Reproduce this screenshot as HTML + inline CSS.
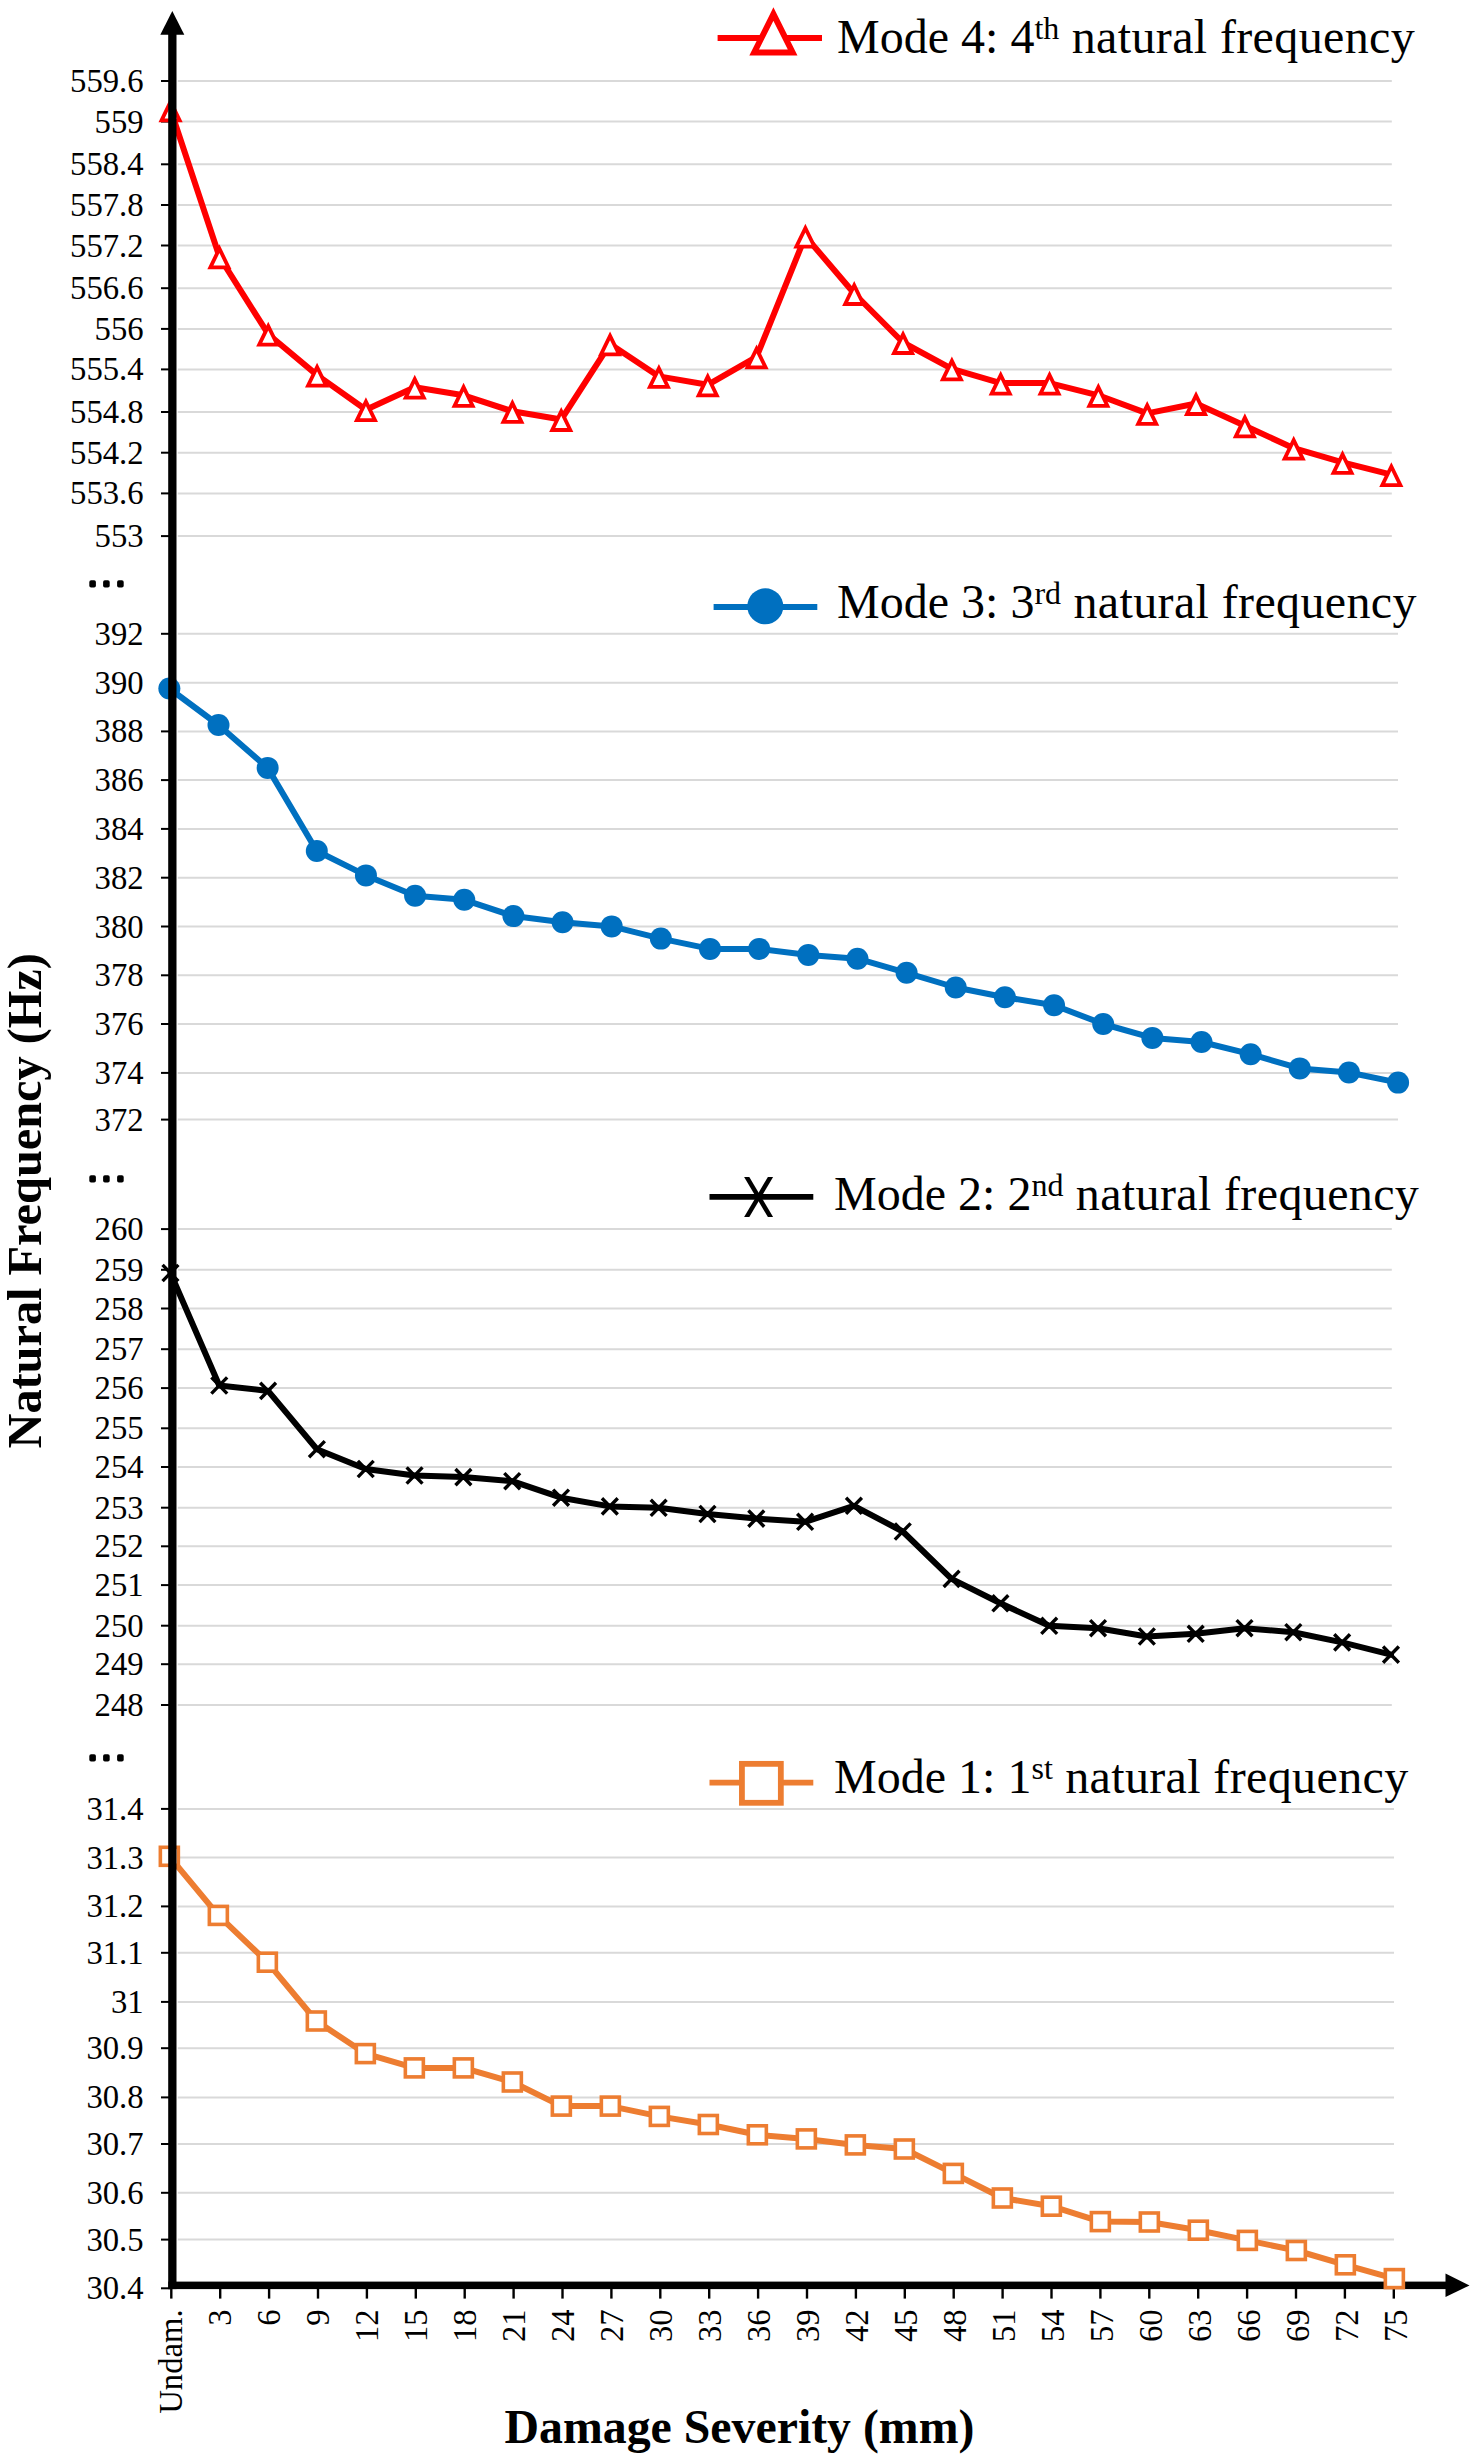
<!DOCTYPE html>
<html><head><meta charset="utf-8"><title>Natural Frequency vs Damage Severity</title>
<style>
html,body{margin:0;padding:0;background:#fff;}
svg{display:block;}
text{font-family:"Liberation Serif",serif;fill:#000;}
</style></head><body>
<svg width="1476" height="2461" viewBox="0 0 1476 2461">
<rect x="0" y="0" width="1476" height="2461" fill="#fff"/>
<g stroke="#d9d9d9" stroke-width="2" fill="none">
<line x1="177.8" y1="81.0" x2="1391.8" y2="81.0"/>
<line x1="177.8" y1="121.6" x2="1391.8" y2="121.6"/>
<line x1="177.8" y1="164.3" x2="1391.8" y2="164.3"/>
<line x1="177.8" y1="205.0" x2="1391.8" y2="205.0"/>
<line x1="177.8" y1="245.5" x2="1391.8" y2="245.5"/>
<line x1="177.8" y1="288.2" x2="1391.8" y2="288.2"/>
<line x1="177.8" y1="328.9" x2="1391.8" y2="328.9"/>
<line x1="177.8" y1="369.4" x2="1391.8" y2="369.4"/>
<line x1="177.8" y1="412.0" x2="1391.8" y2="412.0"/>
<line x1="177.8" y1="452.7" x2="1391.8" y2="452.7"/>
<line x1="177.8" y1="493.4" x2="1391.8" y2="493.4"/>
<line x1="177.8" y1="536.1" x2="1391.8" y2="536.1"/>
<line x1="177.8" y1="633.8" x2="1398" y2="633.8"/>
<line x1="177.8" y1="682.7" x2="1398" y2="682.7"/>
<line x1="177.8" y1="731.4" x2="1398" y2="731.4"/>
<line x1="177.8" y1="780.1" x2="1398" y2="780.1"/>
<line x1="177.8" y1="828.9" x2="1398" y2="828.9"/>
<line x1="177.8" y1="877.7" x2="1398" y2="877.7"/>
<line x1="177.8" y1="926.5" x2="1398" y2="926.5"/>
<line x1="177.8" y1="975.3" x2="1398" y2="975.3"/>
<line x1="177.8" y1="1024.0" x2="1398" y2="1024.0"/>
<line x1="177.8" y1="1072.9" x2="1398" y2="1072.9"/>
<line x1="177.8" y1="1119.6" x2="1398" y2="1119.6"/>
<line x1="177.8" y1="1229.1" x2="1391.8" y2="1229.1"/>
<line x1="177.8" y1="1269.8" x2="1391.8" y2="1269.8"/>
<line x1="177.8" y1="1308.5" x2="1391.8" y2="1308.5"/>
<line x1="177.8" y1="1349.2" x2="1391.8" y2="1349.2"/>
<line x1="177.8" y1="1388.1" x2="1391.8" y2="1388.1"/>
<line x1="177.8" y1="1428.3" x2="1391.8" y2="1428.3"/>
<line x1="177.8" y1="1467.0" x2="1391.8" y2="1467.0"/>
<line x1="177.8" y1="1507.7" x2="1391.8" y2="1507.7"/>
<line x1="177.8" y1="1546.3" x2="1391.8" y2="1546.3"/>
<line x1="177.8" y1="1585.1" x2="1391.8" y2="1585.1"/>
<line x1="177.8" y1="1625.7" x2="1391.8" y2="1625.7"/>
<line x1="177.8" y1="1664.2" x2="1391.8" y2="1664.2"/>
<line x1="177.8" y1="1705.0" x2="1391.8" y2="1705.0"/>
<line x1="177.8" y1="1808.9" x2="1394" y2="1808.9"/>
<line x1="177.8" y1="1857.6" x2="1394" y2="1857.6"/>
<line x1="177.8" y1="1906.4" x2="1394" y2="1906.4"/>
<line x1="177.8" y1="1952.8" x2="1394" y2="1952.8"/>
<line x1="177.8" y1="2001.9" x2="1394" y2="2001.9"/>
<line x1="177.8" y1="2048.2" x2="1394" y2="2048.2"/>
<line x1="177.8" y1="2097.4" x2="1394" y2="2097.4"/>
<line x1="177.8" y1="2144.0" x2="1394" y2="2144.0"/>
<line x1="177.8" y1="2192.8" x2="1394" y2="2192.8"/>
<line x1="177.8" y1="2239.6" x2="1394" y2="2239.6"/>
</g>
<g stroke="#000" stroke-width="2" fill="none">
<line x1="161" y1="81.0" x2="170" y2="81.0"/>
<line x1="161" y1="121.6" x2="170" y2="121.6"/>
<line x1="161" y1="164.3" x2="170" y2="164.3"/>
<line x1="161" y1="205.0" x2="170" y2="205.0"/>
<line x1="161" y1="245.5" x2="170" y2="245.5"/>
<line x1="161" y1="288.2" x2="170" y2="288.2"/>
<line x1="161" y1="328.9" x2="170" y2="328.9"/>
<line x1="161" y1="369.4" x2="170" y2="369.4"/>
<line x1="161" y1="412.0" x2="170" y2="412.0"/>
<line x1="161" y1="452.7" x2="170" y2="452.7"/>
<line x1="161" y1="493.4" x2="170" y2="493.4"/>
<line x1="161" y1="536.1" x2="170" y2="536.1"/>
<line x1="161" y1="633.8" x2="170" y2="633.8"/>
<line x1="161" y1="682.7" x2="170" y2="682.7"/>
<line x1="161" y1="731.4" x2="170" y2="731.4"/>
<line x1="161" y1="780.1" x2="170" y2="780.1"/>
<line x1="161" y1="828.9" x2="170" y2="828.9"/>
<line x1="161" y1="877.7" x2="170" y2="877.7"/>
<line x1="161" y1="926.5" x2="170" y2="926.5"/>
<line x1="161" y1="975.3" x2="170" y2="975.3"/>
<line x1="161" y1="1024.0" x2="170" y2="1024.0"/>
<line x1="161" y1="1072.9" x2="170" y2="1072.9"/>
<line x1="161" y1="1119.6" x2="170" y2="1119.6"/>
<line x1="161" y1="1229.1" x2="170" y2="1229.1"/>
<line x1="161" y1="1269.8" x2="170" y2="1269.8"/>
<line x1="161" y1="1308.5" x2="170" y2="1308.5"/>
<line x1="161" y1="1349.2" x2="170" y2="1349.2"/>
<line x1="161" y1="1388.1" x2="170" y2="1388.1"/>
<line x1="161" y1="1428.3" x2="170" y2="1428.3"/>
<line x1="161" y1="1467.0" x2="170" y2="1467.0"/>
<line x1="161" y1="1507.7" x2="170" y2="1507.7"/>
<line x1="161" y1="1546.3" x2="170" y2="1546.3"/>
<line x1="161" y1="1585.1" x2="170" y2="1585.1"/>
<line x1="161" y1="1625.7" x2="170" y2="1625.7"/>
<line x1="161" y1="1664.2" x2="170" y2="1664.2"/>
<line x1="161" y1="1705.0" x2="170" y2="1705.0"/>
<line x1="161" y1="1808.9" x2="170" y2="1808.9"/>
<line x1="161" y1="1857.6" x2="170" y2="1857.6"/>
<line x1="161" y1="1906.4" x2="170" y2="1906.4"/>
<line x1="161" y1="1952.8" x2="170" y2="1952.8"/>
<line x1="161" y1="2001.9" x2="170" y2="2001.9"/>
<line x1="161" y1="2048.2" x2="170" y2="2048.2"/>
<line x1="161" y1="2097.4" x2="170" y2="2097.4"/>
<line x1="161" y1="2144.0" x2="170" y2="2144.0"/>
<line x1="161" y1="2192.8" x2="170" y2="2192.8"/>
<line x1="161" y1="2239.6" x2="170" y2="2239.6"/>
<line x1="161" y1="2288.3" x2="170" y2="2288.3"/>
</g>
<g font-size="32.7" text-anchor="end">
<text x="143.6" y="92.0">559.6</text>
<text x="143.6" y="132.6">559</text>
<text x="143.6" y="175.3">558.4</text>
<text x="143.6" y="216.0">557.8</text>
<text x="143.6" y="256.5">557.2</text>
<text x="143.6" y="299.2">556.6</text>
<text x="143.6" y="339.9">556</text>
<text x="143.6" y="380.4">555.4</text>
<text x="143.6" y="423.0">554.8</text>
<text x="143.6" y="463.7">554.2</text>
<text x="143.6" y="504.4">553.6</text>
<text x="143.6" y="547.1">553</text>
<text x="143.6" y="644.8">392</text>
<text x="143.6" y="693.7">390</text>
<text x="143.6" y="742.4">388</text>
<text x="143.6" y="791.1">386</text>
<text x="143.6" y="839.9">384</text>
<text x="143.6" y="888.7">382</text>
<text x="143.6" y="937.5">380</text>
<text x="143.6" y="986.3">378</text>
<text x="143.6" y="1035.0">376</text>
<text x="143.6" y="1083.9">374</text>
<text x="143.6" y="1130.6">372</text>
<text x="143.6" y="1240.1">260</text>
<text x="143.6" y="1280.8">259</text>
<text x="143.6" y="1319.5">258</text>
<text x="143.6" y="1360.2">257</text>
<text x="143.6" y="1399.1">256</text>
<text x="143.6" y="1439.3">255</text>
<text x="143.6" y="1478.0">254</text>
<text x="143.6" y="1518.7">253</text>
<text x="143.6" y="1557.3">252</text>
<text x="143.6" y="1596.1">251</text>
<text x="143.6" y="1636.7">250</text>
<text x="143.6" y="1675.2">249</text>
<text x="143.6" y="1716.0">248</text>
<text x="143.6" y="1819.9">31.4</text>
<text x="143.6" y="1868.6">31.3</text>
<text x="143.6" y="1917.4">31.2</text>
<text x="143.6" y="1963.8">31.1</text>
<text x="143.6" y="2012.9">31</text>
<text x="143.6" y="2059.2">30.9</text>
<text x="143.6" y="2108.4">30.8</text>
<text x="143.6" y="2155.0">30.7</text>
<text x="143.6" y="2203.8">30.6</text>
<text x="143.6" y="2250.6">30.5</text>
<text x="143.6" y="2299.3">30.4</text>
</g>
<g fill="#000">
<rect x="89.3" y="580.3" width="6.6" height="7.2" rx="1.8"/>
<rect x="103.1" y="580.3" width="6.6" height="7.2" rx="1.8"/>
<rect x="117.1" y="580.3" width="6.6" height="7.2" rx="1.8"/>
<rect x="89.3" y="1175.3" width="6.6" height="7.2" rx="1.8"/>
<rect x="103.1" y="1175.3" width="6.6" height="7.2" rx="1.8"/>
<rect x="117.1" y="1175.3" width="6.6" height="7.2" rx="1.8"/>
<rect x="89.3" y="1754.3" width="6.6" height="7.2" rx="1.8"/>
<rect x="103.1" y="1754.3" width="6.6" height="7.2" rx="1.8"/>
<rect x="117.1" y="1754.3" width="6.6" height="7.2" rx="1.8"/>
</g>
<g stroke="#000" stroke-width="2.4" fill="none">
<line x1="171.3" y1="2288" x2="171.3" y2="2298.6"/>
<line x1="220.2" y1="2288" x2="220.2" y2="2298.6"/>
<line x1="269.1" y1="2288" x2="269.1" y2="2298.6"/>
<line x1="318.0" y1="2288" x2="318.0" y2="2298.6"/>
<line x1="366.9" y1="2288" x2="366.9" y2="2298.6"/>
<line x1="415.8" y1="2288" x2="415.8" y2="2298.6"/>
<line x1="464.7" y1="2288" x2="464.7" y2="2298.6"/>
<line x1="513.6" y1="2288" x2="513.6" y2="2298.6"/>
<line x1="562.5" y1="2288" x2="562.5" y2="2298.6"/>
<line x1="611.4" y1="2288" x2="611.4" y2="2298.6"/>
<line x1="660.3" y1="2288" x2="660.3" y2="2298.6"/>
<line x1="709.2" y1="2288" x2="709.2" y2="2298.6"/>
<line x1="758.1" y1="2288" x2="758.1" y2="2298.6"/>
<line x1="807.0" y1="2288" x2="807.0" y2="2298.6"/>
<line x1="855.9" y1="2288" x2="855.9" y2="2298.6"/>
<line x1="904.8" y1="2288" x2="904.8" y2="2298.6"/>
<line x1="953.7" y1="2288" x2="953.7" y2="2298.6"/>
<line x1="1002.6" y1="2288" x2="1002.6" y2="2298.6"/>
<line x1="1051.5" y1="2288" x2="1051.5" y2="2298.6"/>
<line x1="1100.4" y1="2288" x2="1100.4" y2="2298.6"/>
<line x1="1149.3" y1="2288" x2="1149.3" y2="2298.6"/>
<line x1="1198.2" y1="2288" x2="1198.2" y2="2298.6"/>
<line x1="1247.1" y1="2288" x2="1247.1" y2="2298.6"/>
<line x1="1296.0" y1="2288" x2="1296.0" y2="2298.6"/>
<line x1="1344.9" y1="2288" x2="1344.9" y2="2298.6"/>
<line x1="1393.8" y1="2288" x2="1393.8" y2="2298.6"/>
</g>
<g font-size="32.7" text-anchor="end">
<text transform="translate(181.7 2309.4) rotate(-90)">Undam.</text>
<text transform="translate(230.7 2309.4) rotate(-90)">3</text>
<text transform="translate(279.7 2309.4) rotate(-90)">6</text>
<text transform="translate(328.7 2309.4) rotate(-90)">9</text>
<text transform="translate(377.7 2309.4) rotate(-90)">12</text>
<text transform="translate(426.7 2309.4) rotate(-90)">15</text>
<text transform="translate(475.7 2309.4) rotate(-90)">18</text>
<text transform="translate(524.7 2309.4) rotate(-90)">21</text>
<text transform="translate(573.7 2309.4) rotate(-90)">24</text>
<text transform="translate(622.7 2309.4) rotate(-90)">27</text>
<text transform="translate(671.7 2309.4) rotate(-90)">30</text>
<text transform="translate(720.7 2309.4) rotate(-90)">33</text>
<text transform="translate(769.7 2309.4) rotate(-90)">36</text>
<text transform="translate(818.7 2309.4) rotate(-90)">39</text>
<text transform="translate(867.7 2309.4) rotate(-90)">42</text>
<text transform="translate(916.7 2309.4) rotate(-90)">45</text>
<text transform="translate(965.7 2309.4) rotate(-90)">48</text>
<text transform="translate(1014.7 2309.4) rotate(-90)">51</text>
<text transform="translate(1063.7 2309.4) rotate(-90)">54</text>
<text transform="translate(1112.7 2309.4) rotate(-90)">57</text>
<text transform="translate(1161.7 2309.4) rotate(-90)">60</text>
<text transform="translate(1210.7 2309.4) rotate(-90)">63</text>
<text transform="translate(1259.7 2309.4) rotate(-90)">66</text>
<text transform="translate(1308.7 2309.4) rotate(-90)">69</text>
<text transform="translate(1357.7 2309.4) rotate(-90)">72</text>
<text transform="translate(1406.7 2309.4) rotate(-90)">75</text>
</g>
<rect x="168.3" y="2281.6" width="1278" height="7.5" fill="#000"/>
<polygon points="1445.5,2273.6 1469.5,2285.4 1445.5,2297.1" fill="#000"/>
<polyline points="170.60,109.8 219.43,256.8 268.26,334.2 317.09,375.1 365.92,409.7 414.75,387.2 463.58,395.3 512.41,411.3 561.24,419.5 610.07,343.9 658.90,376.4 707.73,384.8 756.56,356.9 805.39,236.2 854.22,293.5 903.05,342.5 951.88,368.9 1000.71,383.1 1049.54,383.1 1098.37,395.3 1147.20,413.4 1196.03,403.5 1244.86,425.8 1293.69,448.2 1342.52,462.4 1391.35,474.6" fill="none" stroke="#ff0000" stroke-width="6" stroke-linejoin="round" stroke-linecap="round"/>
<g fill="#fff" stroke="#ff0000" stroke-width="3.8" stroke-linejoin="miter">
<polygon points="170.60,101.7 161.55,120.3 179.65,120.3"/>
<polygon points="219.43,248.7 210.38,267.3 228.48,267.3"/>
<polygon points="268.26,326.1 259.21,344.7 277.31,344.7"/>
<polygon points="317.09,367.0 308.04,385.6 326.14,385.6"/>
<polygon points="365.92,401.6 356.87,420.2 374.97,420.2"/>
<polygon points="414.75,379.1 405.70,397.7 423.80,397.7"/>
<polygon points="463.58,387.2 454.53,405.8 472.63,405.8"/>
<polygon points="512.41,403.2 503.36,421.8 521.46,421.8"/>
<polygon points="561.24,411.4 552.19,430.0 570.29,430.0"/>
<polygon points="610.07,335.8 601.02,354.4 619.12,354.4"/>
<polygon points="658.90,368.3 649.85,386.9 667.95,386.9"/>
<polygon points="707.73,376.7 698.68,395.3 716.78,395.3"/>
<polygon points="756.56,348.8 747.51,367.4 765.61,367.4"/>
<polygon points="805.39,228.1 796.34,246.7 814.44,246.7"/>
<polygon points="854.22,285.4 845.17,304.0 863.27,304.0"/>
<polygon points="903.05,334.4 894.00,353.0 912.10,353.0"/>
<polygon points="951.88,360.8 942.83,379.4 960.93,379.4"/>
<polygon points="1000.71,375.0 991.66,393.6 1009.76,393.6"/>
<polygon points="1049.54,375.0 1040.49,393.6 1058.59,393.6"/>
<polygon points="1098.37,387.2 1089.32,405.8 1107.42,405.8"/>
<polygon points="1147.20,405.3 1138.15,423.9 1156.25,423.9"/>
<polygon points="1196.03,395.4 1186.98,414.0 1205.08,414.0"/>
<polygon points="1244.86,417.7 1235.81,436.3 1253.91,436.3"/>
<polygon points="1293.69,440.1 1284.64,458.7 1302.74,458.7"/>
<polygon points="1342.52,454.3 1333.47,472.9 1351.57,472.9"/>
<polygon points="1391.35,466.5 1382.30,485.1 1400.40,485.1"/>
</g>
<polyline points="169.35,688.5 218.50,725.0 267.65,767.9 316.80,851.0 365.95,875.4 415.10,895.8 464.25,899.8 513.40,916.1 562.55,922.3 611.70,926.4 660.85,938.6 710.00,948.9 759.15,948.9 808.30,954.9 857.45,958.7 906.60,972.8 955.75,987.5 1004.90,997.2 1054.05,1005.3 1103.20,1024.0 1152.35,1037.9 1201.50,1042.0 1250.65,1054.2 1299.80,1068.4 1348.95,1072.5 1398.10,1082.6" fill="none" stroke="#0070c0" stroke-width="6" stroke-linejoin="round" stroke-linecap="round"/>
<g fill="#0070c0">
<circle cx="169.35" cy="688.5" r="11"/>
<circle cx="218.50" cy="725.0" r="11"/>
<circle cx="267.65" cy="767.9" r="11"/>
<circle cx="316.80" cy="851.0" r="11"/>
<circle cx="365.95" cy="875.4" r="11"/>
<circle cx="415.10" cy="895.8" r="11"/>
<circle cx="464.25" cy="899.8" r="11"/>
<circle cx="513.40" cy="916.1" r="11"/>
<circle cx="562.55" cy="922.3" r="11"/>
<circle cx="611.70" cy="926.4" r="11"/>
<circle cx="660.85" cy="938.6" r="11"/>
<circle cx="710.00" cy="948.9" r="11"/>
<circle cx="759.15" cy="948.9" r="11"/>
<circle cx="808.30" cy="954.9" r="11"/>
<circle cx="857.45" cy="958.7" r="11"/>
<circle cx="906.60" cy="972.8" r="11"/>
<circle cx="955.75" cy="987.5" r="11"/>
<circle cx="1004.90" cy="997.2" r="11"/>
<circle cx="1054.05" cy="1005.3" r="11"/>
<circle cx="1103.20" cy="1024.0" r="11"/>
<circle cx="1152.35" cy="1037.9" r="11"/>
<circle cx="1201.50" cy="1042.0" r="11"/>
<circle cx="1250.65" cy="1054.2" r="11"/>
<circle cx="1299.80" cy="1068.4" r="11"/>
<circle cx="1348.95" cy="1072.5" r="11"/>
<circle cx="1398.10" cy="1082.6" r="11"/>
</g>
<polyline points="170.45,1273.0 219.27,1385.5 268.09,1390.9 316.91,1449.2 365.73,1469.0 414.55,1475.5 463.37,1477.1 512.19,1481.2 561.01,1497.7 609.83,1506.4 658.65,1507.8 707.47,1514.0 756.29,1518.6 805.11,1521.8 853.93,1505.8 902.75,1531.5 951.57,1578.9 1000.39,1603.3 1049.21,1625.8 1098.03,1628.2 1146.85,1636.5 1195.67,1633.8 1244.49,1628.2 1293.31,1632.2 1342.13,1642.4 1390.95,1654.6" fill="none" stroke="#000000" stroke-width="6" stroke-linejoin="round" stroke-linecap="round"/>
<g stroke="#000" stroke-width="3.4" fill="none">
<path d="M162.55 1264.9L178.35 1281.1M178.35 1264.9L162.55 1281.1"/>
<path d="M211.37 1377.4L227.17 1393.6M227.17 1377.4L211.37 1393.6"/>
<path d="M260.19 1382.8L275.99 1399.0M275.99 1382.8L260.19 1399.0"/>
<path d="M309.01 1441.1L324.81 1457.3M324.81 1441.1L309.01 1457.3"/>
<path d="M357.83 1460.9L373.63 1477.1M373.63 1460.9L357.83 1477.1"/>
<path d="M406.65 1467.4L422.45 1483.6M422.45 1467.4L406.65 1483.6"/>
<path d="M455.47 1469.0L471.27 1485.2M471.27 1469.0L455.47 1485.2"/>
<path d="M504.29 1473.1L520.09 1489.3M520.09 1473.1L504.29 1489.3"/>
<path d="M553.11 1489.6L568.91 1505.8M568.91 1489.6L553.11 1505.8"/>
<path d="M601.93 1498.3L617.73 1514.5M617.73 1498.3L601.93 1514.5"/>
<path d="M650.75 1499.7L666.55 1515.9M666.55 1499.7L650.75 1515.9"/>
<path d="M699.57 1505.9L715.37 1522.1M715.37 1505.9L699.57 1522.1"/>
<path d="M748.39 1510.5L764.19 1526.7M764.19 1510.5L748.39 1526.7"/>
<path d="M797.21 1513.7L813.01 1529.9M813.01 1513.7L797.21 1529.9"/>
<path d="M846.03 1497.7L861.83 1513.9M861.83 1497.7L846.03 1513.9"/>
<path d="M894.85 1523.4L910.65 1539.6M910.65 1523.4L894.85 1539.6"/>
<path d="M943.67 1570.8L959.47 1587.0M959.47 1570.8L943.67 1587.0"/>
<path d="M992.49 1595.2L1008.29 1611.4M1008.29 1595.2L992.49 1611.4"/>
<path d="M1041.31 1617.7L1057.11 1633.9M1057.11 1617.7L1041.31 1633.9"/>
<path d="M1090.13 1620.1L1105.93 1636.3M1105.93 1620.1L1090.13 1636.3"/>
<path d="M1138.95 1628.4L1154.75 1644.6M1154.75 1628.4L1138.95 1644.6"/>
<path d="M1187.77 1625.7L1203.57 1641.9M1203.57 1625.7L1187.77 1641.9"/>
<path d="M1236.59 1620.1L1252.39 1636.3M1252.39 1620.1L1236.59 1636.3"/>
<path d="M1285.41 1624.1L1301.21 1640.3M1301.21 1624.1L1285.41 1640.3"/>
<path d="M1334.23 1634.3L1350.03 1650.5M1350.03 1634.3L1334.23 1650.5"/>
<path d="M1383.05 1646.5L1398.85 1662.7M1398.85 1646.5L1383.05 1662.7"/>
</g>
<polyline points="169.35,1856.3 218.35,1915.4 267.35,1962.2 316.35,2021.0 365.35,2053.6 414.35,2067.9 463.35,2067.9 512.35,2082.0 561.35,2106.1 610.35,2106.1 659.35,2116.4 708.35,2124.5 757.35,2134.8 806.35,2138.9 855.35,2144.9 904.35,2149.0 953.35,2173.4 1002.35,2198.0 1051.35,2206.2 1100.35,2221.6 1149.35,2222.0 1198.35,2230.2 1247.35,2240.4 1296.35,2250.5 1345.35,2264.8 1394.35,2278.6" fill="none" stroke="#ed7d31" stroke-width="6" stroke-linejoin="round" stroke-linecap="round"/>
<g fill="#fff" stroke="#ed7d31" stroke-width="3.6">
<rect x="160.35" y="1847.3" width="18" height="18"/>
<rect x="209.35" y="1906.4" width="18" height="18"/>
<rect x="258.35" y="1953.2" width="18" height="18"/>
<rect x="307.35" y="2012.0" width="18" height="18"/>
<rect x="356.35" y="2044.6" width="18" height="18"/>
<rect x="405.35" y="2058.9" width="18" height="18"/>
<rect x="454.35" y="2058.9" width="18" height="18"/>
<rect x="503.35" y="2073.0" width="18" height="18"/>
<rect x="552.35" y="2097.1" width="18" height="18"/>
<rect x="601.35" y="2097.1" width="18" height="18"/>
<rect x="650.35" y="2107.4" width="18" height="18"/>
<rect x="699.35" y="2115.5" width="18" height="18"/>
<rect x="748.35" y="2125.8" width="18" height="18"/>
<rect x="797.35" y="2129.9" width="18" height="18"/>
<rect x="846.35" y="2135.9" width="18" height="18"/>
<rect x="895.35" y="2140.0" width="18" height="18"/>
<rect x="944.35" y="2164.4" width="18" height="18"/>
<rect x="993.35" y="2189.0" width="18" height="18"/>
<rect x="1042.35" y="2197.2" width="18" height="18"/>
<rect x="1091.35" y="2212.6" width="18" height="18"/>
<rect x="1140.35" y="2213.0" width="18" height="18"/>
<rect x="1189.35" y="2221.2" width="18" height="18"/>
<rect x="1238.35" y="2231.4" width="18" height="18"/>
<rect x="1287.35" y="2241.5" width="18" height="18"/>
<rect x="1336.35" y="2255.8" width="18" height="18"/>
<rect x="1385.35" y="2269.6" width="18" height="18"/>
</g>
<rect x="168.2" y="30" width="8.3" height="2259.1" fill="#000"/>
<polygon points="160.3,34.8 172.3,11 184.3,34.8" fill="#000"/>
<line x1="717.6" y1="38.05" x2="822" y2="38.05" stroke="#ff0000" stroke-width="5.9"/>
<polygon points="773.4,14.06 754.18,52.5 792.62,52.5" fill="#fff" stroke="#ff0000" stroke-width="6"/>
<text x="837.1" y="52.8" font-size="48">Mode 4: 4<tspan font-size="32" dy="-14.1">th</tspan><tspan dy="14.1" letter-spacing="0.37"> natural frequency</tspan></text>
<line x1="713.6" y1="607.05" x2="817.3" y2="607.05" stroke="#0070c0" stroke-width="6.1"/>
<circle cx="765.3" cy="606.3" r="18" fill="#0070c0"/>
<text x="837.1" y="617.9" font-size="48">Mode 3: 3<tspan font-size="32" dy="-14.1">rd</tspan><tspan dy="14.1" letter-spacing="0.37"> natural frequency</tspan></text>
<line x1="709.5" y1="1196.85" x2="813.3" y2="1196.85" stroke="#000" stroke-width="5.9"/>
<polygon points="744.1,1176.9 749.3,1176.9 773.1,1217.1 767.9,1217.1" fill="#000"/>
<polygon points="767.9,1176.9 773.1,1176.9 749.3,1217.1 744.1,1217.1" fill="#000"/>
<text x="834.1" y="1209.7" font-size="48">Mode 2: 2<tspan font-size="32" dy="-14.1">nd</tspan><tspan dy="14.1" letter-spacing="0.37"> natural frequency</tspan></text>
<line x1="709.5" y1="1782.55" x2="813.3" y2="1782.55" stroke="#ed7d31" stroke-width="5.8"/>
<rect x="741.93" y="1763.85" width="38.9" height="38.95" fill="#fff" stroke="#ed7d31" stroke-width="5.8"/>
<text x="834.1" y="1793.1" font-size="48">Mode 1: 1<tspan font-size="32" dy="-14.1">st</tspan><tspan dy="14.1" letter-spacing="0.37"> natural frequency</tspan></text>
<text transform="translate(41.3 1200.8) rotate(-90)" font-size="48.3" font-weight="bold" text-anchor="middle">Natural Frequency (Hz)</text>
<text x="739.5" y="2443.3" font-size="47.8" font-weight="bold" text-anchor="middle">Damage Severity (mm)</text>
</svg>
</body></html>
